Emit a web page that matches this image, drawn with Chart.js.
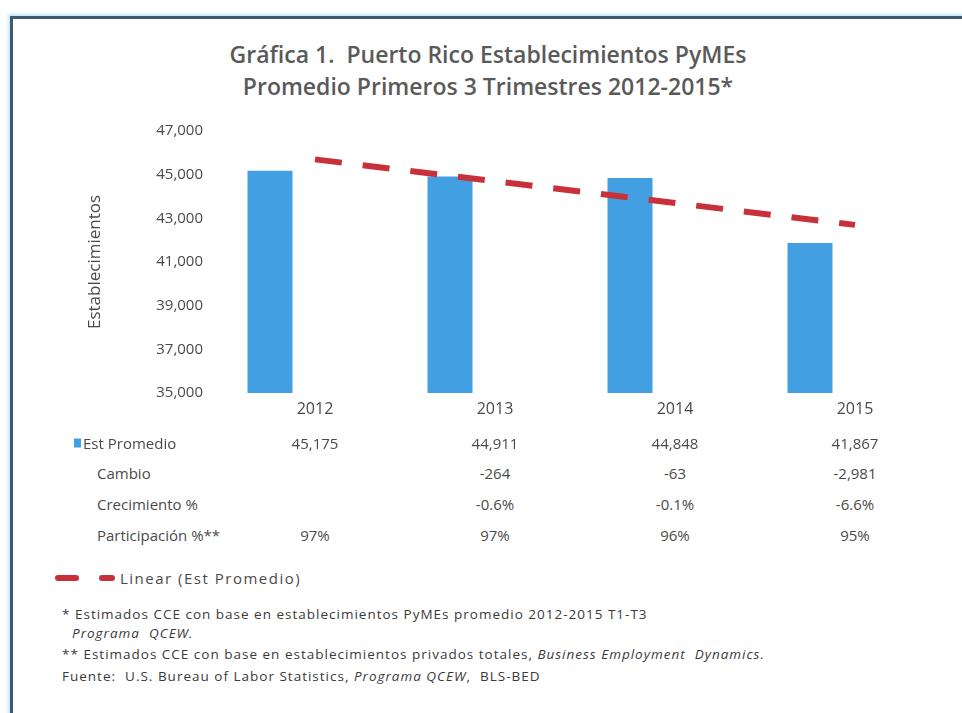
<!DOCTYPE html>
<html>
<head>
<meta charset="utf-8">
<script src="https://cdn.jsdelivr.net/npm/chart.js@4/dist/chart.umd.min.js"></script>
<style>
  html, body { margin: 0; padding: 0; background: #ffffff; }
  body { width: 962px; height: 713px; position: relative; overflow: hidden; font-family: "Open Sans", sans-serif; color: #444; }
  #frame { position: absolute; left: 10px; top: 16px; width: 970px; height: 720px;
           border-left: 3px solid #3d5a70; border-top: 3px solid #3d5a70;
           box-shadow: -2px -2px 3px #bfe9f5; }
  #title { position: absolute; left: 0; width: 976px; top: 38px; text-align: center;
           font-family: "Open Sans", sans-serif; font-weight: 600; font-size: 23px; line-height: 32px; color: #5a5a5a; }
  #chartWrap { position: absolute; left: 0; top: 0; width: 962px; height: 440px; }
  .cell { position: absolute; font-size: 15px; color: #4a4a4a; white-space: nowrap; transform: translate(-50%, -50%); }
  .rowlab { position: absolute; font-size: 15px; color: #4a4a4a; white-space: nowrap; transform: translateY(-50%); }
  .sq { position: absolute; width: 7px; height: 9px; background: #42a0e2; transform: translateY(-50%); }
  .dash { position: absolute; height: 6px; background: #c8303a; border-radius: 3px; }
  #legtext { position: absolute; left: 120px; top: 568px; font-size: 15px; letter-spacing: 1.5px; color: #4a4a4a; }
  .foot { position: absolute; left: 62px; font-size: 13.5px; letter-spacing: 1px; color: #3a3a3a; white-space: nowrap; }
  .foot i { font-style: italic; }
</style>
</head>
<body>
<div id="frame"></div>
<div id="title">Gráfica 1.&nbsp; Puerto Rico Establecimientos PyMEs<br>Promedio Primeros 3 Trimestres 2012-2015*</div>
<div id="chartWrap"><canvas id="c" width="962" height="440"></canvas></div>
<div id="table"></div>
<div class="dash" style="left:55px; top:575px; width:24px;"></div>
<div class="dash" style="left:99px; top:575px; width:16px;"></div>
<div id="legtext">Linear (Est Promedio)</div>
<div class="foot" style="top:605px;">* Estimados CCE con base en establecimientos PyMEs promedio 2012-2015 T1-T3</div>
<div class="foot" style="top:624px; left:72px;"><i>Programa&nbsp; QCEW.</i></div>
<div class="foot" style="top:645px;">** Estimados CCE con base en establecimientos privados totales, <i>Business Employment&nbsp; Dynamics.</i></div>
<div class="foot" style="top:667px;">Fuente:&nbsp; U.S. Bureau of Labor Statistics, <i>Programa QCEW</i>,&nbsp; BLS-BED</div>

<script>
// ---- data ----
const years = ['2012', '2013', '2014', '2015'];
const estPromedio = [45175, 44911, 44848, 41867];
const trendLinear = [45700, 44700, 43700, 42700];
const cambio = ['', '-264', '-63', '-2,981'];
const crecimiento = ['', '-0.6%', '-0.1%', '-6.6%'];
const participacion = ['97%', '97%', '96%', '95%'];
const yTicks = [35000, 37000, 39000, 41000, 43000, 45000, 47000];

const rowLabels = ['Est Promedio', 'Cambio', 'Crecimiento %', 'Participación %**'];

const fmt = v => v.toLocaleString('en-US');

const chart = new Chart(document.getElementById('c'), {
  type: 'bar',
  data: {
    labels: years,
    datasets: [
      { type: 'line', label: 'Linear (Est Promedio)', data: trendLinear, borderColor: '#c8303a',
        borderWidth: 6, borderDash: [27, 21], pointRadius: 0, fill: false, order: 0, tension: 0 },
      { label: 'Est Promedio', data: estPromedio, backgroundColor: '#42a0e2', order: 1,
        categoryPercentage: 1.0, barPercentage: 0.5 },
      { label: '', data: years.map(() => null), backgroundColor: 'rgba(0,0,0,0)', order: 2,
        categoryPercentage: 1.0, barPercentage: 0.5 }
    ]
  },
  options: {
    responsive: false,
    animation: false,
    layout: { padding: { top: 131, left: 0, right: 17, bottom: 0 } },
    plugins: { legend: { display: false }, title: { display: false }, tooltip: { enabled: false } },
    scales: {
      x: {
        grid: { display: false, drawTicks: false },
        border: { display: false },
        ticks: { font: { family: 'Open Sans', size: 16 }, color: '#4a4a4a', padding: 7 },
        afterFit: s => { s.height = 47; }
      },
      y: {
        min: 35000, max: 47000,
        grid: { display: false, drawTicks: false },
        border: { display: false },
        afterBuildTicks: s => { s.ticks = yTicks.map(v => ({ value: v })); },
        ticks: { font: { family: 'Open Sans', size: 15 }, color: '#4a4a4a', padding: 22,
                 callback: v => fmt(v) },
        title: { display: true, text: 'Establecimientos', font: { family: 'Open Sans', size: 17 },
                 color: '#4a4a4a', padding: { top: 85, bottom: 0 } },
        afterFit: s => { s.width = 225; }
      }
    }
  }
});

// ---- data table aligned to the category axis ----
const tbl = document.getElementById('table');
const rowY = [443, 473, 504, 535];
const rows = [estPromedio.map(fmt), cambio, crecimiento, participacion];
rowLabels.forEach((lab, r) => {
  const d = document.createElement('div');
  d.className = 'rowlab';
  d.textContent = lab;
  d.style.left = (r === 0 ? 83 : 97) + 'px';
  d.style.top = rowY[r] + 'px';
  tbl.appendChild(d);
  if (r === 0) {
    const sq = document.createElement('div');
    sq.className = 'sq';
    sq.style.left = '74px';
    sq.style.top = rowY[r] + 'px';
    tbl.appendChild(sq);
  }
  rows[r].forEach((txt, i) => {
    const c = document.createElement('div');
    c.className = 'cell';
    c.textContent = txt;
    c.style.left = chart.scales.x.getPixelForValue(i) + 'px';
    c.style.top = rowY[r] + 'px';
    tbl.appendChild(c);
  });
});
</script>
</body>
</html>
